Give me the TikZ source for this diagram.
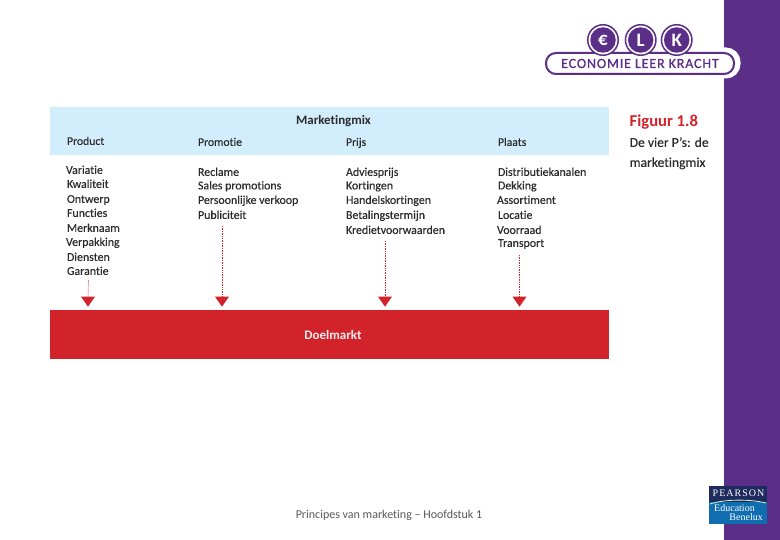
\documentclass[tikz,border=0pt]{standalone}
\usetikzlibrary{shapes.geometric}
\usepackage{fontspec}
\setmainfont[RawFeature={-liga},FakeBold=0.25,BoldFeatures={FakeBold=0}]{Carlito}
\newfontfamily\pfont{Liberation Serif}
\newfontfamily\lfont[RawFeature={-liga},LetterSpace=6,FakeBold=0.8]{Carlito}
\newfontfamily\ffont[RawFeature={-liga}]{Carlito}
\definecolor{lilac}{HTML}{5B2E87}
\definecolor{sky}{HTML}{D2EDFC}
\definecolor{crimson}{HTML}{D2232A}
\definecolor{inkish}{HTML}{2B2B2B}
\definecolor{navy}{HTML}{1F2A5E}
\definecolor{pblue}{HTML}{0F6DB0}
\tikzset{
  item/.style={anchor=mid west,inner sep=0pt,outer sep=0pt,font=\fontsize{11.9}{13}\selectfont,text=inkish},
  head/.style={item,font=\fontsize{11.7}{13}\selectfont},
  tip/.style={draw=none,fill=crimson,isosceles triangle,isosceles triangle apex angle=70,shape border rotate=-90,minimum width=14pt,minimum height=10pt,inner sep=0pt},
  link/.style={densely dotted,crimson,line width=0.7pt},
  band/.style={draw=none,inner sep=0pt,anchor=north west},
  coin/.style={circle,draw=lilac,line width=1.5pt,fill=white,minimum size=30.5pt,inner sep=0pt},
  coinin/.style={circle,fill=lilac,minimum size=25.5pt,inner sep=0pt,text=white,font=\bfseries\fontsize{19}{20}\selectfont},
}
\begin{document}
\begin{tikzpicture}[x=1pt,y=-1pt]
\useasboundingbox (0,0) rectangle (780,540);
\fill[white] (0,0) rectangle (780,540);
\fill[lilac] (724,0) rectangle (780,540);
% bands
\node[band,fill=sky,minimum width=559pt,minimum height=48pt] (top) at (50,107) {};
\node[band,fill=crimson,minimum width=559pt,minimum height=49pt] (goal) at (50,310) {};
\node[font=\bfseries\fontsize{12.9}{14}\selectfont,text=inkish,anchor=mid] (mix) at (333.5,122) {Marketingmix};
\node[font=\bfseries\fontsize{13}{14}\selectfont,text=white!92!crimson,anchor=mid] (dm) at (333,337.5) {Doelmarkt};
% heads
\node[head] (h1) at (67,142.5) {Product};
\node[head] (h2) at (198,143.5) {Promotie};
\node[head] (h3) at (346,143.5) {Prijs};
\node[head] (h4) at (498,143.5) {Plaats};
% Product
\node[item] (a1) at (66,171.5) {Variatie};
\node[item] (a2) at (67,185.5) {Kwaliteit};
\node[item] (a3) at (67,200.5) {Ontwerp};
\node[item] (a4) at (67,214.5) {Functies};
\node[item] (a5) at (67,229.5) {Merknaam};
\node[item] (a6) at (66,243.5) {Verpakking};
\node[item] (a7) at (67,258.5) {Diensten};
\node[item] (a8) at (67,272.5) {Garantie};
% Promotie
\node[item] (b1) at (198,173.5) {Reclame};
\node[item] (b2) at (198,187) {Sales promotions};
\node[item] (b3) at (198,201.5) {Persoonlijke verkoop};
\node[item] (b4) at (198,216.5) {Publiciteit};
% Prijs
\node[item] (c1) at (346,173.5) {Adviesprijs};
\node[item] (c2) at (346,187) {Kortingen};
\node[item] (c3) at (346,201.5) {Handelskortingen};
\node[item] (c4) at (346,216.5) {Betalingstermijn};
\node[item] (c5) at (346,231.5) {Kredietvoorwaarden};
% Plaats
\node[item] (d1) at (498,173.5) {Distributiekanalen};
\node[item] (d2) at (498,187) {Dekking};
\node[item] (d3) at (497,201.5) {Assortiment};
\node[item] (d4) at (498,216.5) {Locatie};
\node[item] (d5) at (497,231.5) {Voorraad};
\node[item] (d6) at (498,244.5) {Transport};
% arrows
\node[tip,anchor=apex] (t1) at (88,307) {};
\node[tip,anchor=apex] (t2) at (222,307) {};
\node[tip,anchor=apex] (t3) at (385,307) {};
\node[tip,anchor=apex] (t4) at (519.5,307) {};
\coordinate (s1) at (88.5,280);
\coordinate (s2) at (222,226);
\coordinate (s3) at (385,241);
\coordinate (s4) at (519.5,255);
\draw[link] (s1) -- (t1.center);
\draw[link] (s2) -- (t2.center);
\draw[link] (s3) -- (t3.center);
\draw[link] (s4) -- (t4.center);
% caption
\node[anchor=mid west,inner sep=0pt,text=crimson,font=\bfseries\fontsize{16.6}{18}\selectfont] (fig) at (629.5,124.5) {Figuur 1.8};
\node[anchor=mid west,inner sep=0pt,text=inkish,font=\fontsize{13.6}{15}\selectfont] (cap1) at (629.5,144.5) {De vier P’s: de};
\node[anchor=mid west,inner sep=0pt,text=inkish,font=\fontsize{13.6}{15}\selectfont] (cap2) at (629.5,164.5) {marketingmix};
% logo
\node[draw=white,line width=3pt,rounded corners=13pt,minimum width=196pt,minimum height=28pt,inner sep=0pt,fill=white] (halo) at (641,63) {};
\node[draw=lilac,line width=2pt,rounded corners=10pt,minimum width=188pt,minimum height=21pt,inner sep=0pt,fill=white,text=lilac,font=\lfont\fontsize{14}{15}\selectfont] (pill) at (640,63.5) {ECONOMIE LEER KRACHT};
\node[coin] (ce) at (603,40) {};
\node[coin] (cl) at (640.7,40) {};
\node[coin] (ck) at (676.7,40) {};
\node[coinin] at (ce) {€};
\node[coinin] at (cl) {L};
\node[coinin] at (ck) {K};
% footer
\node[font=\ffont\fontsize{12}{13}\selectfont,text=black!65,anchor=mid] (foot) at (389,516) {Principes van marketing – Hoofdstuk 1};
% Pearson
\node[band,fill=pblue,minimum width=58pt,minimum height=38pt] (pb) at (709,486) {};
\node[band,fill=navy,minimum width=58pt,minimum height=16pt,text=white] (pn) at (709,486) {};
\node[text=white,font={\pfont\addfontfeature{LetterSpace=10}\fontsize{10}{11}\selectfont},inner sep=0pt] at (738.5,493.5) {PEARSON};
\draw[white!80!green,line width=0.8pt] (710,504) .. controls (725,499) and (750,499) .. (766,503);
\node[text=white,font=\pfont\fontsize{10}{11}\selectfont,inner sep=0pt,anchor=west] at (714,508.5) {Education};
\node[text=white,font=\pfont\fontsize{10}{11}\selectfont,inner sep=0pt,anchor=east] at (763,517.5) {Benelux};
\end{tikzpicture}
\end{document}
